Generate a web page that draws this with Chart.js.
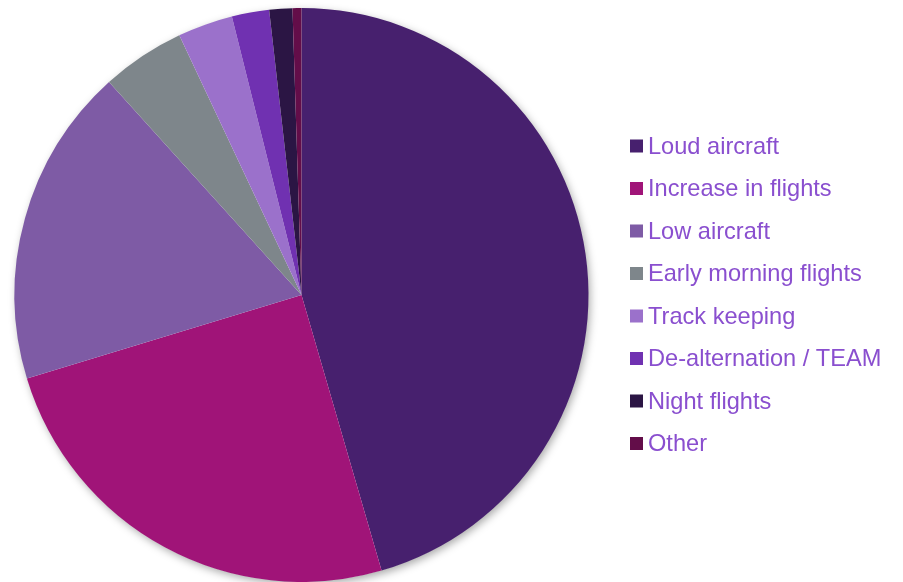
<!DOCTYPE html>
<html>
<head>
<meta charset="utf-8">
<script src="https://cdn.jsdelivr.net/npm/chart.js@4.4.1/dist/chart.umd.min.js"></script>
<style>
  html, body { margin: 0; padding: 0; background: #ffffff; }
  #wrap { width: 903px; height: 582px; position: relative; }
</style>
</head>
<body>
<div id="wrap"><canvas id="pie" width="903" height="582"></canvas></div>
<script>
// Complaint categories and their share (%)
const categories = [
  'Loud aircraft',
  'Increase in flights',
  'Low aircraft',
  'Early morning flights',
  'Track keeping',
  'De-alternation / TEAM',
  'Night flights',
  'Other'
];
const shares = [45.5, 24.8, 18.0, 4.7, 3.1, 2.1, 1.3, 0.5];
const sliceColors = [
  '#47206e', '#a01478', '#7e5ba5', '#7e868b',
  '#9b71cb', '#7031b1', '#2b1544', '#630d49'
];

// Soft drop shadow behind the whole pie
const pieShadow = {
  id: 'pieShadow',
  beforeDatasetsDraw(chart) {
    const arc = chart.getDatasetMeta(0).data[0];
    if (!arc) return;
    const ctx = chart.ctx;
    ctx.save();
    ctx.shadowColor = 'rgba(0,0,0,0.35)';
    ctx.shadowBlur = 9;
    ctx.shadowOffsetX = 2;
    ctx.shadowOffsetY = 3;
    ctx.fillStyle = '#ffffff';
    ctx.beginPath();
    ctx.arc(arc.x, arc.y, arc.outerRadius - 0.5, 0, Math.PI * 2);
    ctx.fill();
    ctx.restore();
  }
};

// Legend on the right: square swatch + label
const sideLegend = {
  id: 'sideLegend',
  afterDraw(chart) {
    const ctx = chart.ctx;
    const labels = chart.data.labels;
    const colors = chart.data.datasets[0].backgroundColor;
    ctx.save();
    ctx.font = '23.6px "Liberation Sans", Arial, sans-serif';
    ctx.textBaseline = 'middle';
    ctx.textAlign = 'left';
    const x0 = 630, y0 = 146, step = 42.5, box = 13;
    labels.forEach((lab, i) => {
      const y = y0 + i * step;
      ctx.fillStyle = colors[i];
      ctx.fillRect(x0, y - box / 2, box, box);
      ctx.fillStyle = '#8a4fcf';
      ctx.fillText(lab, x0 + 18, y + 1);
    });
    ctx.restore();
  }
};

new Chart(document.getElementById('pie'), {
  type: 'pie',
  data: {
    labels: categories,
    datasets: [{
      data: shares,
      backgroundColor: sliceColors,
      borderWidth: 0
    }]
  },
  options: {
    responsive: false,
    animation: false,
    events: [],
    layout: { padding: { left: 14.5, right: 314.5, top: 8, bottom: 0 } },
    plugins: {
      legend: { display: false },
      tooltip: { enabled: false }
    }
  },
  plugins: [pieShadow, sideLegend]
});
</script>
</body>
</html>
